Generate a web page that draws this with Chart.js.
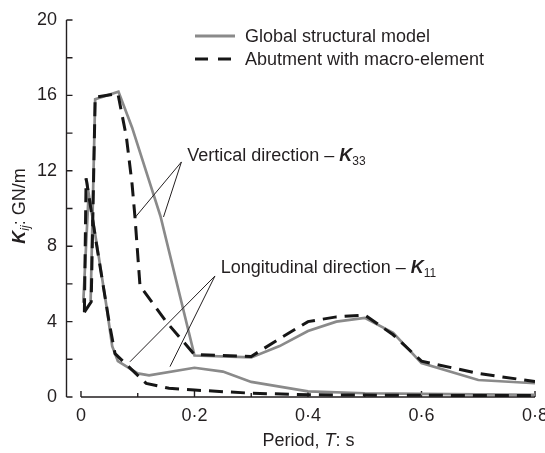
<!DOCTYPE html>
<html>
<head>
<meta charset="utf-8">
<script src="https://cdn.jsdelivr.net/npm/chart.js@4.4.0/dist/chart.umd.min.js"></script>
<style>
  html,body{margin:0;padding:0;background:#fff}
  canvas{display:block}
</style>
</head>
<body>
<canvas id="chart" width="545" height="453"></canvas>
<script>
// period T (s) and stiffness K (GN/m)
const vertGlobalT = [0.017, 0.025, 0.066, 0.09, 0.14, 0.2, 0.3, 0.35, 0.4, 0.45, 0.5, 0.55, 0.6, 0.7, 0.8];
const vertGlobalK = [5.1, 15.8, 16.2, 14.3, 9.6, 2.2, 2.1, 2.7, 3.5, 4.0, 4.2, 3.4, 1.8, 0.9, 0.73];

const vertAbutT = [0.006, 0.018, 0.025, 0.065, 0.08, 0.09, 0.095, 0.104, 0.15, 0.2, 0.3, 0.35, 0.4, 0.45, 0.5, 0.55, 0.6, 0.7, 0.8];
const vertAbutK = [4.5, 5.05, 15.9, 16.1, 13.8, 11.3, 9.6, 5.9, 4.0, 2.25, 2.15, 3.1, 4.0, 4.25, 4.35, 3.3, 1.9, 1.25, 0.82];

const longGlobalT = [0.004, 0.0135, 0.03, 0.045, 0.055, 0.065, 0.1, 0.12, 0.2, 0.25, 0.3, 0.4, 0.5, 0.6, 0.7, 0.8];
const longGlobalK = [5.0, 10.8, 7.7, 4.8, 2.7, 1.9, 1.25, 1.15, 1.55, 1.35, 0.8, 0.3, 0.2, 0.17, 0.14, 0.12];

const longAbutT = [0.006, 0.009, 0.03, 0.05, 0.06, 0.1, 0.115, 0.155, 0.2, 0.3, 0.4, 0.5, 0.6, 0.7, 0.8];
const longAbutK = [4.5, 11.6, 7.6, 3.9, 2.3, 1.15, 0.72, 0.46, 0.37, 0.2, 0.12, 0.1, 0.09, 0.08, 0.08];

const xTickVals = [0, 0.2, 0.4, 0.6, 0.8];
const xTickLabels = ['0', '0·2', '0·4', '0·6', '0·8'];
const xMinorVals = [0.1, 0.3, 0.5, 0.7];
const yTickVals = [0, 4, 8, 12, 16, 20];
const yMinorVals = [2, 6, 10, 14, 18];

const legendLabels = ['Global structural model', 'Abutment with macro-element'];

const FONT = '"Liberation Sans", Arial, sans-serif';
const INK = '#231f20';
const GREY = '#8a8a8a';
const DARK = '#161616';

const pts = (xs, ys) => xs.map((x, i) => ({x, y: ys[i]}));

// callouts: text anchor and leader lines, in data units
const callouts = [
  {at: [0.1873, 12.52], text: 'Vertical direction – ', sym: 'K', sub: '33',
   apex: [0.177, 12.47], ends: [[0.0952, 9.52], [0.1454, 9.55]]},
  {at: [0.2462, 6.6], text: 'Longitudinal direction – ', sym: 'K', sub: '11',
   apex: [0.2361, 6.42], ends: [[0.0863, 1.87], [0.1568, 1.61]]}
];

function runs(ctx, x, y, parts, align){
  let w = 0;
  parts.forEach(p => { ctx.font = p.f; w += ctx.measureText(p.t).width; });
  let cx = align === 'center' ? x - w / 2 : x;
  parts.forEach(p => {
    ctx.font = p.f;
    ctx.fillText(p.t, cx, y + (p.dy || 0));
    cx += ctx.measureText(p.t).width;
  });
}

const decor = {
  id: 'decor',
  beforeDatasetsDraw(chart){
    const {ctx, scales: {x, y}} = chart;
    ctx.save();
    ctx.strokeStyle = INK;
    ctx.lineWidth = 1.4;
    // y axis (detached, at left edge of plot)
    const ax = chart.chartArea.left + 0.5;
    ctx.beginPath();
    ctx.moveTo(ax, y.getPixelForValue(20));
    ctx.lineTo(ax, y.getPixelForValue(0));
    yTickVals.concat(yMinorVals).forEach(v => {
      const py = y.getPixelForValue(v);
      ctx.moveTo(ax, py); ctx.lineTo(ax + 6, py);
    });
    // x axis from T = 0
    const ay = y.getPixelForValue(0);
    ctx.moveTo(x.getPixelForValue(0), ay);
    ctx.lineTo(x.getPixelForValue(0.8), ay);
    xTickVals.forEach(v => { const px = x.getPixelForValue(v); ctx.moveTo(px, ay); ctx.lineTo(px, ay - 6); });
    xMinorVals.forEach(v => { const px = x.getPixelForValue(v); ctx.moveTo(px, ay); ctx.lineTo(px, ay - 4); });
    ctx.stroke();
    ctx.restore();
  },
  afterDraw(chart){
    const {ctx, chartArea, scales: {x, y}} = chart;
    ctx.save();
    ctx.fillStyle = INK;
    ctx.textBaseline = 'alphabetic';
    const reg = '18px ' + FONT, it = 'italic 18px ' + FONT, bi = 'italic bold 18px ' + FONT;
    const sm = '12px ' + FONT, smIt = 'italic 12px ' + FONT;

    // axis titles
    runs(ctx, (chartArea.left + x.getPixelForValue(0.8)) / 2 + 8, 446,
      [{t: 'Period, ', f: reg}, {t: 'T', f: it}, {t: ': s', f: reg}], 'center');
    ctx.save();
    ctx.translate(25, 206);
    ctx.rotate(-Math.PI / 2);
    runs(ctx, 0, 0, [{t: 'K', f: bi}, {t: 'ij', f: smIt, dy: 4}, {t: ': GN/m', f: reg}], 'center');
    ctx.restore();

    // callouts
    ctx.strokeStyle = INK;
    ctx.lineWidth = 1;
    callouts.forEach(c => {
      const P = p => [x.getPixelForValue(p[0]), y.getPixelForValue(p[1])];
      const a = P(c.apex);
      ctx.beginPath();
      c.ends.forEach(e => { const q = P(e); ctx.moveTo(a[0], a[1]); ctx.lineTo(q[0], q[1]); });
      ctx.stroke();
      const t = P(c.at);
      runs(ctx, t[0], t[1], [{t: c.text, f: reg}, {t: c.sym, f: bi}, {t: c.sub, f: sm, dy: 4}]);
    });

    // legend
    const lx = chartArea.left + 129, ly = [36, 59];
    ctx.lineWidth = 2.8;
    ctx.strokeStyle = GREY;
    ctx.beginPath(); ctx.moveTo(lx, ly[0]); ctx.lineTo(lx + 40, ly[0]); ctx.stroke();
    ctx.lineWidth = 3;
    ctx.strokeStyle = DARK;
    ctx.setLineDash([13, 10]);
    ctx.beginPath(); ctx.moveTo(lx, ly[1]); ctx.lineTo(lx + 37, ly[1]); ctx.stroke();
    ctx.setLineDash([]);
    ctx.font = reg;
    ctx.textBaseline = 'middle';
    legendLabels.forEach((s, i) => ctx.fillText(s, lx + 50, ly[i] + 1));
    ctx.restore();
  }
};

const solid = {borderColor: GREY, borderWidth: 2.7, pointRadius: 0, fill: false, tension: 0};
const dashed = {borderColor: DARK, borderWidth: 3, borderDash: [14, 8], pointRadius: 0, fill: false, tension: 0};

new Chart(document.getElementById('chart'), {
  type: 'line',
  data: {
    datasets: [
      {label: 'Abutment K33', data: pts(vertAbutT, vertAbutK), ...dashed},
      {label: 'Abutment K11', data: pts(longAbutT, longAbutK), ...dashed},
      {label: 'Global K33', data: pts(vertGlobalT, vertGlobalK), ...solid},
      {label: 'Global K11', data: pts(longGlobalT, longGlobalK), ...solid}
    ]
  },
  options: {
    responsive: false,
    animation: false,
    layout: {padding: {top: 20, right: 10, left: 0, bottom: 0}},
    plugins: {legend: {display: false}, tooltip: {enabled: false}},
    scales: {
      x: {
        type: 'linear', min: -0.0264, max: 0.8,
        grid: {display: false, drawTicks: false}, border: {display: false},
        afterBuildTicks: s => { s.ticks = xTickVals.map(v => ({value: v})); },
        afterFit: s => { s.height = 56; s.paddingLeft = 0; s.paddingRight = 0; },
        ticks: {autoSkip: false, maxRotation: 0, padding: 8, color: INK,
          font: {family: FONT, size: 18}, callback: (v, i) => xTickLabels[i]}
      },
      y: {
        min: 0, max: 20,
        grid: {display: false, drawTicks: false}, border: {display: false},
        afterBuildTicks: s => { s.ticks = yTickVals.map(v => ({value: v})); },
        afterFit: s => { s.width = 66; s.paddingTop = 0; s.paddingBottom = 0; },
        ticks: {padding: 9, color: INK, font: {family: FONT, size: 18}, callback: v => String(v)}
      }
    }
  },
  plugins: [decor]
});
</script>
</body>
</html>
